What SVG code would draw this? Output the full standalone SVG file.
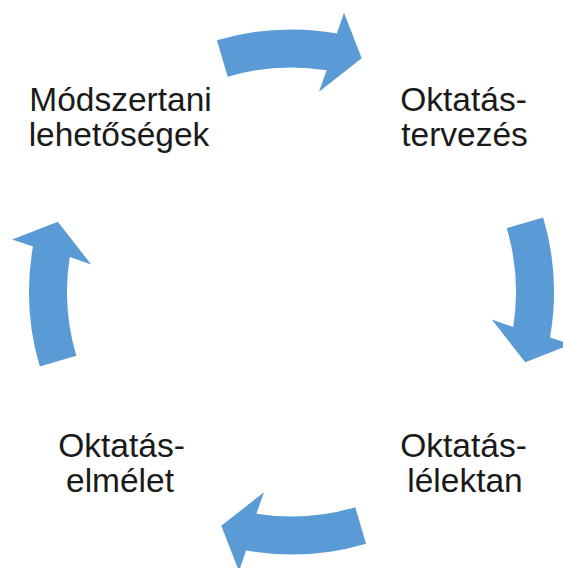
<svg xmlns="http://www.w3.org/2000/svg" width="563" height="568" viewBox="0 0 563 568">
  <defs>
    <style>
      .lbl { font-family: "Liberation Sans", Arial, sans-serif; font-size: 33.5px; fill: #1a1a1a; text-anchor: middle; }
      .arr { fill: #5B9BD5; stroke: none; }
    </style>
    <path id="cyc-arrow" class="arr" d="M 216.94 40.31 A 262.5 262.5 0 0 1 336.91 33.46 L 344 12.7 L 361.7 58.3 L 319 91.7 L 326.62 70.27 A 224.5 224.5 0 0 0 227.74 76.75 Z"/>
  </defs>
  <rect width="563" height="568" fill="#ffffff"/>
  <g id="connectors">
    <use href="#cyc-arrow"/>
    <use href="#cyc-arrow" transform="rotate(90 291.5 292)"/>
    <use href="#cyc-arrow" transform="rotate(180 291.5 292)"/>
    <use href="#cyc-arrow" transform="rotate(270 291.5 292)"/>
  </g>
  <g id="node-modszertani">
    <text class="lbl" x="120.5" y="110.7">Módszertani</text>
    <text class="lbl" x="119" y="145.5">lehetőségek</text>
  </g>
  <g id="node-oktatastervezes">
    <text class="lbl" x="463.5" y="110.7">Oktatás-</text>
    <text class="lbl" x="464.5" y="145.7">tervezés</text>
  </g>
  <g id="node-oktataslelektan">
    <text class="lbl" x="463.5" y="456.7">Oktatás-</text>
    <text class="lbl" x="465" y="491.7">lélektan</text>
  </g>
  <g id="node-oktataselmelet">
    <text class="lbl" x="121.5" y="456.7">Oktatás-</text>
    <text class="lbl" x="120" y="491.7">elmélet</text>
  </g>
</svg>
